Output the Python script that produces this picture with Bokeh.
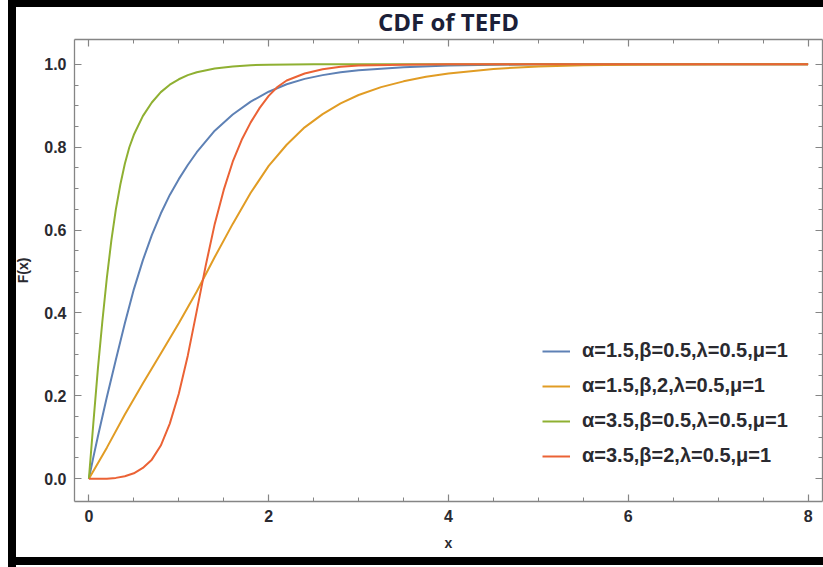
from bokeh.plotting import figure
from bokeh.models import (Range1d, LinearAxis, FixedTicker, NumeralTickFormatter,
                          Legend, LegendItem, CustomLabelingPolicy)
from bokeh.embed import file_html
from bokeh.resources import INLINE

# CDF values of the TEFD for four parameter sets
x_green = [0, 0.05, 0.1, 0.15, 0.2, 0.25, 0.3, 0.35, 0.4, 0.45, 0.5, 0.6, 0.7, 0.8,
           0.9, 1.0, 1.1, 1.2, 1.4, 1.6, 1.8, 2.0, 2.5, 8.0]
y_green = [0, 0.135, 0.265, 0.38, 0.485, 0.575, 0.65, 0.71, 0.76, 0.8, 0.83, 0.875,
           0.908, 0.933, 0.951, 0.964, 0.974, 0.981, 0.99, 0.995, 0.998, 0.999, 1.0, 1.0]

x_blue = [0, 0.05, 0.1, 0.2, 0.3, 0.4, 0.5, 0.6, 0.7, 0.8, 0.9, 1.0, 1.1, 1.2, 1.4,
          1.6, 1.8, 2.0, 2.2, 2.4, 2.6, 2.8, 3.0, 3.5, 4.0, 4.5, 5.0, 8.0]
y_blue = [0, 0.052, 0.102, 0.197, 0.287, 0.375, 0.457, 0.527, 0.588, 0.64, 0.685,
          0.723, 0.757, 0.788, 0.84, 0.879, 0.91, 0.934, 0.952, 0.965, 0.974, 0.981,
          0.986, 0.993, 0.997, 0.999, 1.0, 1.0]

x_orange = [0, 0.2, 0.4, 0.6, 0.8, 1.0, 1.2, 1.4, 1.6, 1.8, 2.0, 2.2, 2.4, 2.6, 2.8,
            3.0, 3.25, 3.5, 3.75, 4.0, 4.5, 5.0, 5.5, 6.0, 7.0, 8.0]
y_orange = [0, 0.075, 0.155, 0.23, 0.302, 0.375, 0.452, 0.535, 0.615, 0.69, 0.755,
            0.806, 0.848, 0.88, 0.906, 0.926, 0.945, 0.959, 0.97, 0.978, 0.989, 0.995,
            0.998, 0.999, 1.0, 1.0]

x_red = [0, 0.2, 0.3, 0.4, 0.5, 0.6, 0.7, 0.8, 0.9, 1.0, 1.1, 1.2, 1.3, 1.4, 1.5,
         1.6, 1.7, 1.8, 1.9, 2.0, 2.1, 2.2, 2.4, 2.6, 2.8, 3.0, 3.5, 4.0, 8.0]
y_red = [0, 0.0, 0.002, 0.006, 0.013, 0.026, 0.046, 0.08, 0.133, 0.205, 0.297, 0.405,
         0.515, 0.615, 0.697, 0.765, 0.818, 0.86, 0.895, 0.924, 0.946, 0.961, 0.978,
         0.988, 0.994, 0.997, 0.999, 1.0, 1.0]

labels = ["α=1.5,β=0.5,λ=0.5,μ=1", "α=1.5,β,2,λ=0.5,μ=1",
          "α=3.5,β=0.5,λ=0.5,μ=1", "α=3.5,β=2,λ=0.5,μ=1"]
colors = ["#5E81B5", "#E19C24", "#8FB032", "#EB6235"]

x_major = [0, 2, 4, 6, 8]
x_minor = [i * 0.5 for i in range(17)]
y_major = [0.0, 0.2, 0.4, 0.6, 0.8, 1.0]
y_minor = [i * 0.05 for i in range(21)]

p = figure(width=823, height=567, output_backend="svg", toolbar_location=None,
           x_range=Range1d(-0.16, 8.16), y_range=Range1d(-0.055, 1.06),
           min_border_left=74, min_border_right=1, min_border_top=37,
           min_border_bottom=66, background_fill_color="white",
           border_fill_alpha=0, outline_line_color=None)
p.grid.visible = False
# black picture frame painted behind the transparent figure border
p.styles = {
    "background-color": "white",
    "background-image": ("linear-gradient(to right, transparent 8px, black 8px, "
                         "black 16px, transparent 16px), "
                         "linear-gradient(to bottom, black 7px, transparent 7px, "
                         "transparent 557px, black 557px, black 565px, transparent 565px)"),
    "background-repeat": "no-repeat",
    "background-position": "0 0, 8px 0",
    "background-size": "100% 100%, calc(100% - 8px) 100%",
}

series = [(x_blue, y_blue), (x_orange, y_orange), (x_green, y_green), (x_red, y_red)]
renderers = []
for (xs, ys), c in zip(series, colors):
    renderers.append(p.line(xs, ys, line_color=c, line_width=2,
                            line_join="round"))

AX = "#858585"
LBL = "#2a2a30"


def style_axis(ax, major, minor, fmt, show_labels):
    ax.ticker = FixedTicker(ticks=major, minor_ticks=minor)
    ax.formatter = NumeralTickFormatter(format=fmt)
    ax.axis_line_color = AX
    ax.axis_line_width = 1.3
    ax.major_tick_line_color = AX
    ax.minor_tick_line_color = AX
    ax.major_tick_line_width = 1.2
    ax.minor_tick_line_width = 1.0
    ax.major_tick_in = 7
    ax.major_tick_out = 0
    ax.minor_tick_in = 4
    ax.minor_tick_out = 0
    if show_labels:
        ax.major_label_text_font = "Liberation Sans"
        ax.major_label_text_font_style = "bold"
        ax.major_label_text_font_size = "16px"
        ax.major_label_text_color = LBL
        ax.major_label_standoff = 8
    else:
        # frame side: ticks only, no numbers
        ax.major_label_policy = CustomLabelingPolicy(code="return new Set()")
        ax.major_label_text_font_size = "0px"
        ax.major_label_standoff = 0


xb = p.xaxis[0]
yl = p.yaxis[0]
style_axis(xb, x_major, x_minor, "0", True)
style_axis(yl, y_major, y_minor, "0.0", True)
xt = LinearAxis()
yr = LinearAxis()
style_axis(xt, x_major, x_minor, "0", False)
style_axis(yr, y_major, y_minor, "0.0", False)
p.add_layout(xt, "above")
p.add_layout(yr, "right")

for ax, name in ((xb, "x"), (yl, "F(x)")):
    ax.axis_label = name
    ax.axis_label_text_font = "Liberation Sans"
    ax.axis_label_text_font_style = "bold"
    ax.axis_label_text_font_size = "14px"
    ax.axis_label_text_color = LBL
    ax.axis_label_standoff = 10

p.title.text = "CDF of TEFD"
p.title.align = "center"
p.title.text_font = "Open Sans"
p.title.text_font_size = "24px"
p.title.text_font_style = "bold"
p.title.text_color = "#1b2038"
p.title.standoff = 4

legend = Legend(items=[LegendItem(label=l, renderers=[r]) for l, r in zip(labels, renderers)],
                location=(468, 34), padding=0, margin=0, spacing=12,
                glyph_width=28, glyph_height=20, label_height=20, label_standoff=12,
                label_text_font="Liberation Sans", label_text_font_style="bold",
                label_text_font_size="20px", label_text_color=LBL,
                background_fill_alpha=0, border_line_alpha=0)
p.add_layout(legend)

open("out.html", "w").write(file_html(p, INLINE))
